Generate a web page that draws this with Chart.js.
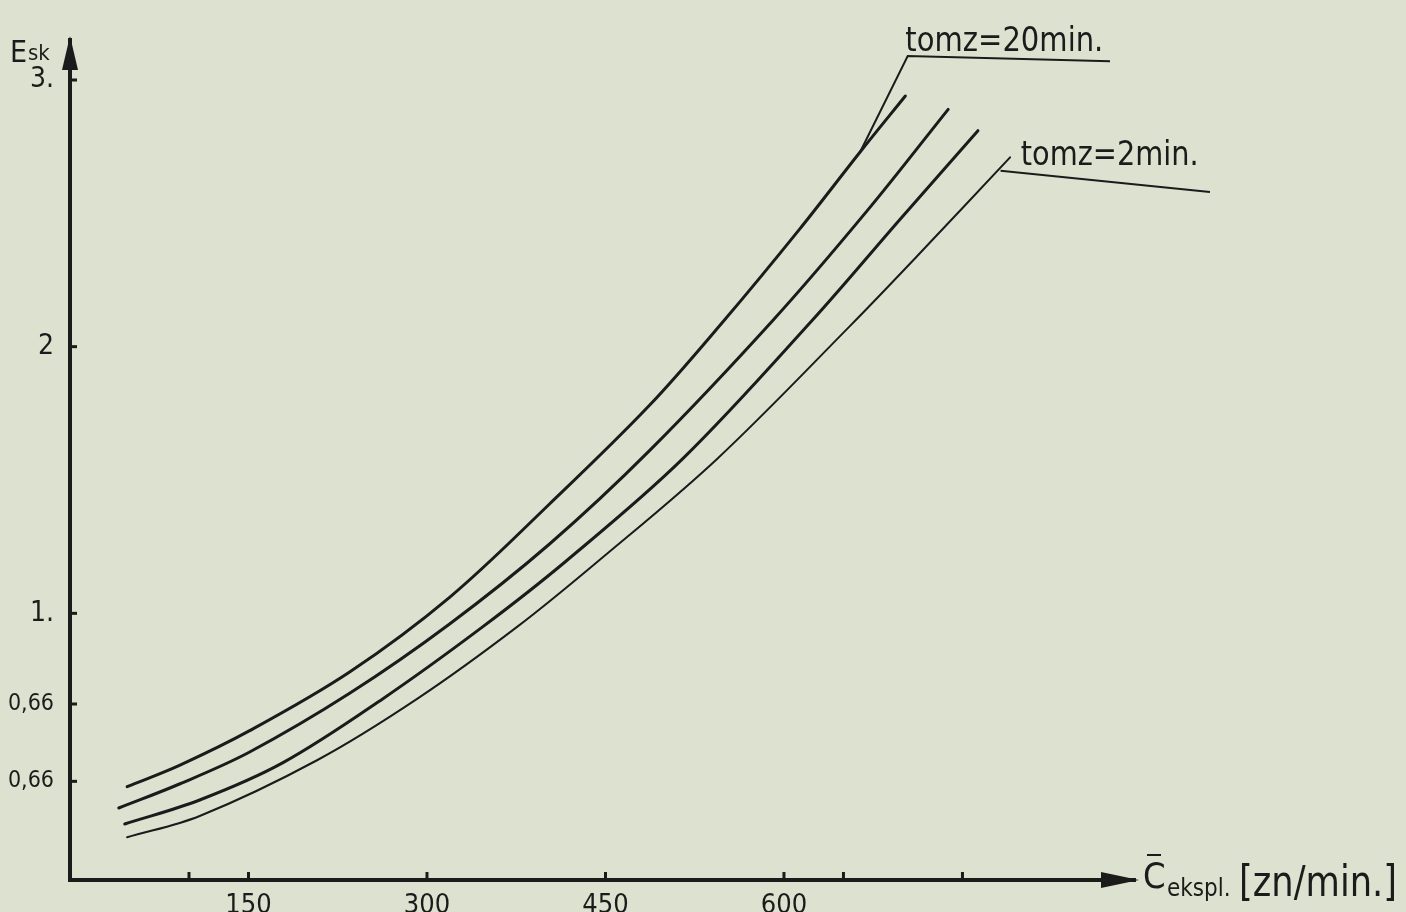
<!DOCTYPE html>
<html>
<head>
<meta charset="utf-8">
<script src="https://cdn.jsdelivr.net/npm/chart.js@4.4.1/dist/chart.umd.min.js"></script>
<style>
    html, body { margin: 0; padding: 0; background: #dde2d0; overflow: hidden; }
    #wrap { width: 1406px; height: 912px; position: relative; }
</style>
</head>
<body>
<div id="wrap"><canvas id="eskChart" width="1406" height="912"></canvas></div>
<script>
// values (x = C ekspl. [zn/min], y = Esk)
const curve20X = [48, 92, 151, 235, 319, 403, 487, 550, 613, 664, 702];
const curve20Y = [0.35, 0.43, 0.56, 0.78, 1.06, 1.41, 1.78, 2.10, 2.44, 2.73, 2.94];

const curveBX = [41, 92, 151, 235, 319, 403, 487, 591, 670, 738];
const curveBY = [0.27, 0.36, 0.48, 0.70, 0.96, 1.26, 1.61, 2.10, 2.51, 2.89];

const curveCX = [46, 109, 179, 263, 347, 418, 515, 624, 698, 763];
const curveCY = [0.21, 0.30, 0.44, 0.68, 0.95, 1.20, 1.58, 2.10, 2.48, 2.81];

const curve2X = [48, 109, 208, 292, 376, 445, 544, 656, 712, 790];
const curve2Y = [0.16, 0.24, 0.45, 0.68, 0.95, 1.20, 1.58, 2.08, 2.34, 2.71];

// axis ticks as marked on the drawing (label '' = tick without number)
const xTickValues = [100, 150, 300, 450, 600, 650, 750];
const xTickLabels = ['', '150', '300', '450', '600', '', ''];
const yTickValues = [0.37, 0.66, 1, 2, 3];
const yTickLabels = ['0,66', '0,66', '1.', '2', '3.'];

// leader lines to the curve labels, in data units
const leader20 = [[664, 2.73], [704, 3.09], [874, 3.07]];
const leader2 = [[782, 2.66], [958, 2.58]];

const ink = '#1b1b1b';
const hand = '"DejaVu Sans Condensed", "DejaVu Sans", sans-serif';

function toPoints(xs, ys) {
    return xs.map((x, i) => ({ x: x, y: ys[i] }));
}

function curve(xs, ys, width) {
    return {
        data: toPoints(xs, ys),
        borderColor: ink,
        borderWidth: width,
        borderCapStyle: 'round',
        pointRadius: 0,
        fill: false,
        tension: 0.35
    };
}

// arrows, small tick marks, axis titles and the tomz labels
const sketchPlugin = {
    id: 'sketch',
    afterDraw(chart) {
        const { ctx, chartArea: a, scales: { x, y } } = chart;
        ctx.save();
        ctx.fillStyle = ink;
        ctx.strokeStyle = ink;

        // arrow heads
        ctx.beginPath();
        ctx.moveTo(a.left, a.top - 4);
        ctx.lineTo(a.left - 8, a.top + 30);
        ctx.lineTo(a.left + 8, a.top + 30);
        ctx.closePath();
        ctx.fill();
        ctx.beginPath();
        ctx.moveTo(a.right + 4, a.bottom);
        ctx.lineTo(a.right - 34, a.bottom - 8);
        ctx.lineTo(a.right - 34, a.bottom + 8);
        ctx.closePath();
        ctx.fill();

        // tick bumps
        ctx.lineWidth = 3;
        xTickValues.forEach(v => {
            const px = x.getPixelForValue(v);
            ctx.beginPath();
            ctx.moveTo(px, a.bottom);
            ctx.lineTo(px, a.bottom - 8);
            ctx.stroke();
        });
        yTickValues.forEach(v => {
            const py = y.getPixelForValue(v);
            ctx.beginPath();
            ctx.moveTo(a.left, py);
            ctx.lineTo(a.left + 7, py);
            ctx.stroke();
        });

        // leaders
        ctx.lineWidth = 2;
        [leader20, leader2].forEach(pts => {
            ctx.beginPath();
            pts.forEach((p, i) => {
                const px = x.getPixelForValue(p[0]);
                const py = y.getPixelForValue(p[1]);
                if (i === 0) ctx.moveTo(px, py); else ctx.lineTo(px, py);
            });
            ctx.stroke();
        });

        // curve labels
        ctx.textBaseline = 'alphabetic';
        ctx.textAlign = 'left';
        ctx.font = '34px ' + hand;
        ctx.fillText('tomz=20min.', x.getPixelForValue(702), y.getPixelForValue(3.11), 198);
        ctx.fillText('tomz=2min.', x.getPixelForValue(799), y.getPixelForValue(2.68), 178);

        // y axis title
        ctx.font = '30px ' + hand;
        ctx.fillText('E', a.left - 60, a.top + 22);
        ctx.font = '22px ' + hand;
        ctx.fillText('sk', a.left - 42, a.top + 20);

        // x axis title
        const tx = a.right + 8;
        const ty = a.bottom + 8;
        ctx.font = '36px ' + hand;
        ctx.fillText('C', tx, ty);
        ctx.lineWidth = 2;
        ctx.beginPath();
        ctx.moveTo(tx + 4, ty - 33);
        ctx.lineTo(tx + 18, ty - 33);
        ctx.stroke();
        ctx.font = '24px ' + hand;
        ctx.fillText('ekspl.', tx + 24, ty + 8);
        ctx.font = '42px ' + hand;
        ctx.fillText('[zn/min.]', tx + 96, ty + 8, 158);
        ctx.restore();
    }
};

const ctx = document.getElementById('eskChart').getContext('2d');

new Chart(ctx, {
    type: 'line',
    data: {
        datasets: [
            curve(curve20X, curve20Y, 3),
            curve(curveBX, curveBY, 3),
            curve(curveCX, curveCY, 3),
            curve(curve2X, curve2Y, 2)
        ]
    },
    options: {
        responsive: false,
        animation: false,
        devicePixelRatio: 1,
        layout: {
            padding: { left: 8, top: 40, right: 271, bottom: 0 }
        },
        plugins: {
            legend: { display: false },
            tooltip: { enabled: false }
        },
        scales: {
            x: {
                type: 'linear',
                min: 0,
                max: 895,
                afterBuildTicks: scale => {
                    scale.ticks = xTickValues.map(v => ({ value: v }));
                },
                afterFit: scale => {
                    scale.height = 32;
                },
                grid: { display: false },
                border: { display: true, color: ink, width: 4 },
                ticks: {
                    color: ink,
                    padding: 2,
                    maxRotation: 0,
                    autoSkip: false,
                    font: { family: hand, size: 27 },
                    callback: function(value) {
                        const i = xTickValues.indexOf(value);
                        return i >= 0 ? xTickLabels[i] : '';
                    }
                }
            },
            y: {
                type: 'linear',
                min: 0,
                max: 3.15,
                afterBuildTicks: scale => {
                    scale.ticks = yTickValues.map(v => ({ value: v }));
                },
                afterFit: scale => {
                    scale.width = 62;
                },
                grid: { display: false },
                border: { display: true, color: ink, width: 4 },
                ticks: {
                    color: ink,
                    padding: 8,
                    autoSkip: false,
                    font: context => ({
                        family: hand,
                        size: context.tick && context.tick.value < 1 ? 23 : 28
                    }),
                    callback: function(value) {
                        const i = yTickValues.indexOf(value);
                        return i >= 0 ? yTickLabels[i] : '';
                    }
                }
            }
        }
    },
    plugins: [sketchPlugin]
});
</script>
</body>
</html>
